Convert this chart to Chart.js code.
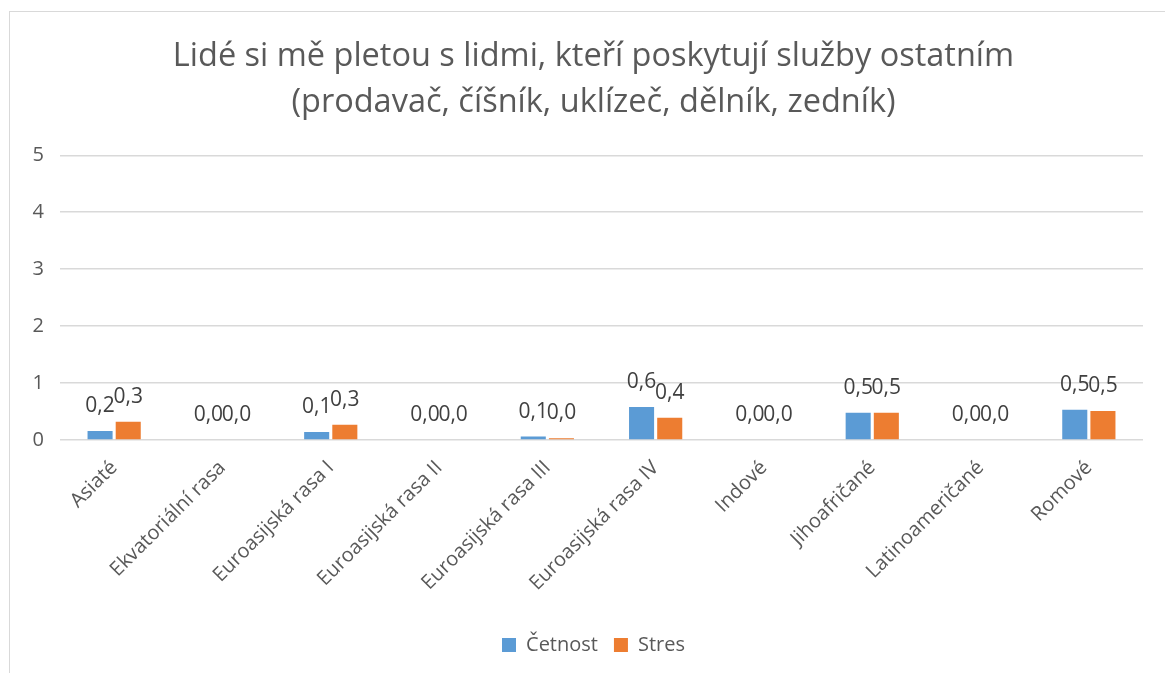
<!DOCTYPE html>
<html>
<head>
<meta charset="utf-8">
<script src="https://cdn.jsdelivr.net/npm/chart.js@4"></script>
<style>
  html, body { margin: 0; padding: 0; background: #fff; }
  #wrap { width: 1165px; height: 673px; position: relative; }
</style>
</head>
<body>
<div id="wrap"><canvas id="chart" width="1165" height="673"></canvas></div>
<script>
const categories = ['Asiaté', 'Ekvatoriální rasa', 'Euroasijská rasa I', 'Euroasijská rasa II',
  'Euroasijská rasa III', 'Euroasijská rasa IV', 'Indové', 'Jihoafričané', 'Latinoameričané', 'Romové'];
const cetnost = [0.16, 0, 0.14, 0, 0.06, 0.58, 0, 0.48, 0, 0.53];
const stres = [0.32, 0, 0.27, 0, 0.03, 0.39, 0, 0.48, 0, 0.51];
const yTicks = [0, 1, 2, 3, 4, 5];

const FONT = '"Open Sans", "Noto Sans", sans-serif';

// popisky hodnot nad sloupci (formát 0,0)
const valueLabels = {
  id: 'valueLabels',
  afterDatasetsDraw(chart) {
    const ctx = chart.ctx;
    ctx.save();
    ctx.font = '21px ' + FONT;
    ctx.fillStyle = '#404040';
    ctx.textBaseline = 'middle';
    ctx.textAlign = 'center';
    chart.data.datasets.forEach((ds, i) => {
      const meta = chart.getDatasetMeta(i);
      meta.data.forEach((bar, j) => {
        const txt = ds.data[j].toFixed(1).replace('.', ',');
        ctx.fillText(txt, bar.x, bar.y - 25);
      });
    });
    ctx.restore();
  }
};

// rámeček grafu
const frame = {
  id: 'frame',
  beforeDraw(chart) {
    const ctx = chart.ctx;
    ctx.save();
    ctx.strokeStyle = '#d9d9d9';
    ctx.lineWidth = 1;
    ctx.strokeRect(9.5, 11.5, 1200, 700);
    ctx.restore();
  }
};

new Chart(document.getElementById('chart'), {
  type: 'bar',
  data: {
    labels: categories,
    datasets: [
      { label: 'Četnost', data: cetnost, backgroundColor: '#5B9BD5', barPercentage: 0.89, categoryPercentage: 0.52 },
      { label: 'Stres', data: stres, backgroundColor: '#ED7D31', barPercentage: 0.89, categoryPercentage: 0.52 }
    ]
  },
  options: {
    responsive: false,
    animation: false,
    layout: { padding: { left: 22, right: 0, top: 0, bottom: 8 } },
    plugins: {
      title: {
        display: true,
        text: ['Lidé si mě pletou s lidmi, kteří poskytují služby ostatním', '(prodavač, číšník, uklízeč, dělník, zedník)'],
        color: '#595959',
        font: { family: FONT, size: 32.5, weight: 'normal', lineHeight: 1.42 },
        padding: { top: 34, bottom: 29 }
      },
      legend: {
        position: 'bottom',
        labels: {
          color: '#595959',
          font: { family: FONT, size: 20 },
          boxWidth: 14, boxHeight: 14, padding: 16
        }
      },
      tooltip: { enabled: false }
    },
    scales: {
      x: {
        grid: { display: false },
        border: { display: false },
        ticks: { color: '#595959', font: { family: FONT, size: 20 }, maxRotation: 45, minRotation: 45, padding: 8 },
        afterFit(scale) { scale.height = 179; }
      },
      y: {
        min: 0, max: 5,
        afterBuildTicks(scale) { scale.ticks = yTicks.map(v => ({ value: v })); },
        grid: { color: '#d9d9d9', lineWidth: 1.5, drawTicks: false },
        border: { display: false },
        ticks: { color: '#595959', font: { family: FONT, size: 20 }, padding: 16 },
        afterFit(scale) { scale.width = 38; }
      },
      // prázdná osa vpravo jen kvůli okraji
      y2: {
        position: 'right',
        grid: { display: false },
        border: { display: false },
        ticks: { display: false },
        afterFit(scale) { scale.width = 22; }
      }
    }
  },
  plugins: [valueLabels, frame]
});
</script>
</body>
</html>
